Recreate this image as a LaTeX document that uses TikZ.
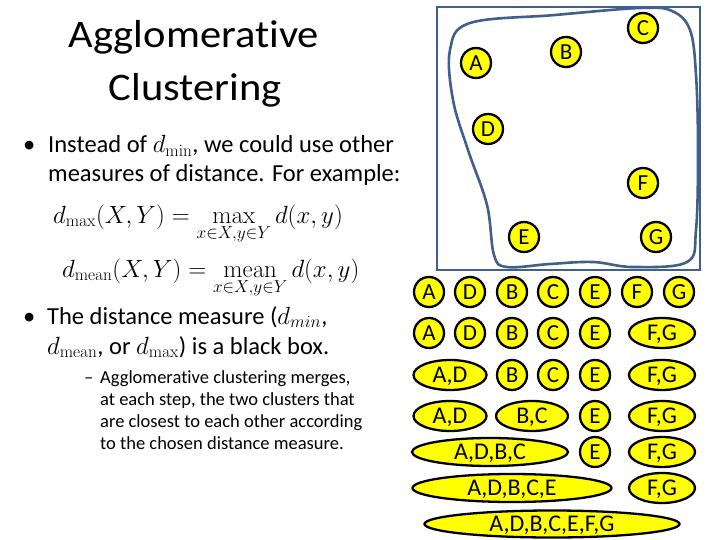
\documentclass[tikz,border=0pt]{standalone}
\usepackage{amsmath}
\usepackage{graphicx}
\usepackage[no-math]{fontspec}
\setmainfont[Ligatures=NoCommon]{Carlito}
\usetikzlibrary{shapes.geometric}
\definecolor{boxblue}{RGB}{65,95,140}
\definecolor{ptyellow}{RGB}{255,255,0}
\tikzset{
  pt/.style={circle,draw=black,line width=2.3pt,fill=ptyellow,minimum size=30pt,inner sep=0pt,
    text height=14.8pt,text depth=0pt,font=\fontsize{23}{25}\selectfont},
  cl/.style={ellipse,draw=black,line width=2.3pt,fill=ptyellow,minimum height=30pt,inner sep=0pt,
    text height=15.5pt,text depth=0pt,font=\fontsize{24}{26}\selectfont},
  txt/.style={anchor=base west,inner sep=0pt,font=\fontsize{24.5}{28}\selectfont},
  sub/.style={anchor=base west,inner sep=0pt,font=\fontsize{18.5}{21}\selectfont},
  ttl/.style={anchor=base,inner sep=0pt,font=\fontsize{39}{44}\selectfont},
}
\begin{document}
\begin{tikzpicture}[x=1pt,y=-1pt]
\useasboundingbox (0,0) rectangle (720,540);
% title
\node[ttl] (title1) at (194,48) {\scalebox{1.09}[1]{Agglomerative}};
\node[ttl] (title2) at (195,101) {\scalebox{1.09}[1]{Clustering}};
% bullet 1
\node[txt] (b1) at (23,153) {•};
\node[txt] (l1) at (48,153) {Instead of $d_{\mathrm{min}}$, we could use other};
\node[txt] (l2) at (48,182) {measures of distance. For example:};
\node[txt] (e1) at (53,223) {$\displaystyle d_{\max}(X,Y) = \max_{x\in X,y\in Y} d(x,y)$};
\node[txt] (e2) at (62,277) {$\displaystyle d_{\mathrm{mean}}(X,Y) = \operatorname*{mean}_{x\in X,y\in Y} d(x,y)$};
% bullet 2
\node[txt] (b2) at (23,324) {•};
\node[txt] (l3) at (47,324) {The distance measure ($d_{min}$,};
\node[txt] (l4) at (47,354) {$d_{\mathrm{mean}}$, or $d_{\max}$) is a black box.};
\node[sub] (dash) at (84,383) {–};
\node[sub] (s1) at (100,383) {Agglomerative clustering merges,};
\node[sub] (s2) at (100,405) {at each step, the two clusters that};
\node[sub] (s3) at (100,427) {are closest to each other according};
\node[sub] (s4) at (100,449) {to the chosen distance measure.};
% box and blob
\draw[boxblue,line width=2.6pt] (437,7) rectangle (700,270);
\draw[boxblue,line width=2.6pt] plot[smooth cycle,tension=0.6] coordinates {
 (450,50) (470,23) (555,15) (640,8) (672,11) (690,30) (696,75) (698,150) (696,230)
 (687,262) (633,267) (593,262) (550,264) (507,267) (494,255) (487,205) (468,150) (453,100)};
\node[pt] (A) at (476,63) {A};
\node[pt] (B) at (566,52) {B};
\node[pt] (C) at (643,28) {C};
\node[pt] (D) at (488,129) {D};
\node[pt] (F) at (643,183) {F};
\node[pt] (E) at (524,237) {E};
\node[pt] (G) at (656,237) {G};
% row 1
\node[pt] (r1a) at (429,292) {A};
\node[pt] (r1d) at (470,292) {D};
\node[pt] (r1b) at (512,292) {B};
\node[pt] (r1c) at (553,292) {C};
\node[pt] (r1e) at (595,292) {E};
\node[pt] (r1f) at (637,292) {F};
\node[pt] (r1g) at (679,292) {G};
% row 2
\node[pt] (r2a) at (429,333) {A};
\node[pt] (r2d) at (470,333) {D};
\node[pt] (r2b) at (512,333) {B};
\node[pt] (r2c) at (553,333) {C};
\node[pt] (r2e) at (595,333) {E};
\node[cl,minimum width=66pt] (r2fg) at (662,333) {F,G};
% row 3
\node[cl,minimum width=73pt] (r3ad) at (450,375) {A,D};
\node[pt] (r3b) at (512,375) {B};
\node[pt] (r3c) at (553,375) {C};
\node[pt] (r3e) at (595,375) {E};
\node[cl,minimum width=66pt] (r3fg) at (662,375) {F,G};
% row 4
\node[cl,minimum width=73pt] (r4ad) at (450,416) {A,D};
\node[cl,minimum width=72pt] (r4bc) at (532,416) {B,C};
\node[pt] (r4e) at (595,416) {E};
\node[cl,minimum width=66pt] (r4fg) at (662,416) {F,G};
% row 5
\node[cl,minimum width=156pt,minimum height=28pt] (r5) at (490,452) {A,D,B,C};
\node[pt] (r5e) at (595,452) {E};
\node[cl,minimum width=66pt] (r5fg) at (662,452) {F,G};
% row 6
\node[cl,minimum width=199pt,minimum height=28pt] (r6) at (512,488) {A,D,B,C,E};
\node[cl,minimum width=66pt] (r6fg) at (662,488) {F,G};
% row 7
\node[cl,minimum width=255pt,minimum height=27pt] (r7) at (552,524) {A,D,B,C,E,F,G};
\end{tikzpicture}
\end{document}
